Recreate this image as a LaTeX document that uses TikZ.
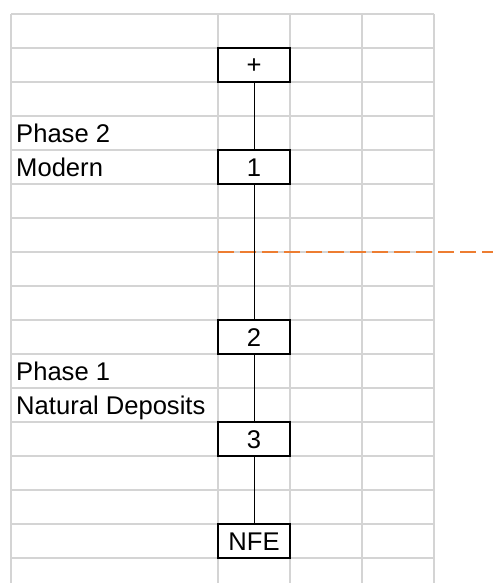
\documentclass[tikz,border=0pt]{standalone}
\usepackage{fontspec}
\setmainfont{Liberation Sans}
\definecolor{gridgray}{HTML}{D4D4D4}
\definecolor{phaseorange}{HTML}{ED7D31}
\tikzset{
  gridline/.style={draw=gridgray, line width=1.5pt},
  unitbox/.style={draw=black, fill=white, line width=1.6pt, rectangle,
    minimum width=72pt, minimum height=34pt, inner sep=0pt,
    text height=18pt, text depth=0pt, font=\fontsize{25.6}{30}\selectfont},
  link/.style={draw=black, line width=1pt},
  rowlabel/.style={anchor=base west, inner sep=0pt, font=\fontsize{25.6}{30}\selectfont},
  boundary/.style={draw=phaseorange, line width=1.6pt, dash pattern=on 15.5pt off 6.5pt}
}
\begin{document}
\begin{tikzpicture}[x=1pt, y=-1pt]
  \useasboundingbox[fill=white] (0,0) rectangle (493,583);

  % spreadsheet grid
  \foreach \gx in {11,218,290,362,434}
    \draw[gridline] (\gx,14) -- (\gx,583);
  \foreach \k in {0,...,16}
    \draw[gridline] (11,14+34*\k) -- (434,14+34*\k);

  % phase boundary
  \coordinate (bstart) at (218,252);
  \coordinate (bend) at (493,252);
  \draw[boundary] (bstart) -- (bend);

  % units
  \node[unitbox] (plus) at (254,65) {+};
  \node[unitbox] (u1) at (254,167) {1};
  \node[unitbox] (u2) at (254,337) {2};
  \node[unitbox] (u3) at (254,439) {3};
  \node[unitbox] (nfe) at (254,541) {NFE};

  % stratigraphic links
  \draw[link] (plus.south) -- (u1.north);
  \draw[link] (u1.south) -- (u2.north);
  \draw[link] (u2.south) -- (u3.north);
  \draw[link] (u3.south) -- (nfe.north);

  % phase labels
  \node[rowlabel] (p2) at (16,142.5) {Phase 2};
  \node[rowlabel] (p2n) at (16,176.5) {Modern};
  \node[rowlabel] (p1) at (16,380.5) {Phase 1};
  \node[rowlabel] (p1n) at (16,414.5) {Natural Deposits};
\end{tikzpicture}
\end{document}
